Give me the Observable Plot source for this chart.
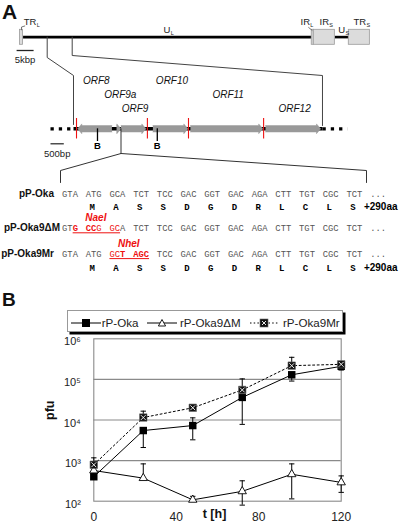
<!DOCTYPE html>
<html><head><meta charset="utf-8">
<script src="https://cdn.jsdelivr.net/npm/d3@7"></script>
<script src="https://cdn.jsdelivr.net/npm/@observablehq/plot@0.6"></script>
<style>
body{margin:0;background:#fff;font-family:"Liberation Sans",Arial,sans-serif;}
#wrap{position:relative;width:400px;height:524px;overflow:hidden;background:#fff}
#wrap svg{display:block}
.abs{position:absolute;white-space:nowrap}
#labB{left:2px;top:289px;font-weight:bold;font-size:19px;line-height:22px;color:#111}
#legendBox{left:66.7px;top:310px;width:274px;height:20px;border:1px solid #999;box-shadow:2.5px 2.5px 0 #000;background:#fff}
.legTxt{font-size:11.6px;line-height:14px;top:315.5px;color:#222}
.legSw{top:316.5px}
</style></head><body>
<div id="wrap">
  <div id="panelA"></div>
  <div id="panelB"></div>
  <div id="labB" class="abs">B</div>
  <div id="legendBox" class="abs"></div>
  <div id="legendItems"></div>
</div>
<script>
// ---------------- Panel A data ----------------
// genome overview (kbp, schematic)
const genomeBoxes = [
  {label: "TR", sub: "L", start: 0, end: 0.9, labelAt: 1.12},
  {label: "IR", sub: "L", start: 85.8, end: 86.4, labelAt: 82.5},
  {label: "IR", sub: "S", start: 86.4, end: 92.6, labelAt: 88.1},
  {label: "TR", sub: "S", start: 96.7, end: 102.9, labelAt: 98.1}
];
const genomeLines = [
  {label: "U", sub: "L", start: 0.9, end: 85.8, labelAt: 42.2},
  {label: "U", sub: "S", start: 92.6, end: 96.7, labelAt: 93.6}
];
const zoomRegionKbp = [8.0, 15.35];
const scaleBarKbp = [-1, 4];
const scaleBarKbpLabel = "5kbp";

// ORF map (bp, relative to zoomed region)
const regionBp = 9360;
const orfs = [
  {name: "ORF8", start: 1444, end: 154},
  {name: "ORF9a", start: 1617, end: 1786},
  {name: "ORF9", start: 1786, end: 2726},
  {name: "ORF10", start: 2985, end: 4305},
  {name: "ORF11", start: 4395, end: 7120},
  {name: "ORF12", start: 7218, end: 9293}
];
const redSites = [113, 2778, 4323, 7147];
const bSites = [902, 3150];
const scaleBarBp = [-865, -365];
const scaleBarBpLabel = "500bp";
const seqZoomBp = 1786;

// sequences
const okaCodons = ["GTA","ATG","GCA","TCT","TCC","GAC","GGT","GAC","AGA","CTT","TGT","CGC","TCT"];
const okaAA = ["M","A","S","S","D","G","D","R","L","C","L","S"];
const dmCodons = ["GTG","CCG","GCA","TCT","TCC","GAC","GGT","GAC","AGA","CTT","TGT","CGC","TCT"];
const dmMask = ["--B","BBr","rr-"];
const mrCodons = ["GTA","ATG","GCT","AGC","TCC","GAC","GGT","GAC","AGA","CTT","TGT","CGC","TCT"];
const mrMask = ["---","---","rrB","BBB"];
const mrAA = ["M","A","S","S","D","G","D","R","L","C","L","S"];
const seqNames = ["pP-Oka", "pP-Oka9\u0394M", "pP-Oka9Mr"];
const siteNames = ["NaeI", "NheI"];
const tailAA = "+290aa";

// ---------------- Panel B data ----------------
const hours = [0, 24, 48, 72, 96, 120];
const okaPfu = [400, 5500, 7300, 36000, 130000, 210000];
const okaLow = [null, 2100, 3250, 7800, 91000, 170000];
const okaHigh = [null, null, 11300, null, null, null];
const dmPfu = [570, 370, 108, 175, 460, 290];
const dmLow = [null, null, null, 80, 114, 165];
const dmHigh = [null, 830, 132, 318, 830, 420];
const mrPfu = [790, 11500, 20000, 55000, 218000, 235000];
const mrLow = [null, null, null, null, null, null];
const mrHigh = [1170, 16500, null, 103000, 350000, 270000];
const seriesNames = ["rP-Oka", "rP-Oka9\u0394M", "rP-Oka9Mr"];
const xTicks = [0, 40, 80, 120];
const yTicks = [1e2, 1e3, 1e4, 1e5, 1e6];

// ---------------- Panel A drawing ----------------
const gx = Plot.scale({x: {type: "linear", domain: [0, 100], range: [19.5, 359.5]}});
const bx = Plot.scale({x: {type: "linear", domain: [0, 500], range: [73, 86.3]}});
const cx = Plot.scale({x: {type: "linear", domain: [0, 12], range: [69.5, 353.9]}});
const G = v => gx.apply(v), Bp = v => bx.apply(v), C = v => cx.apply(v);

const yGen = 36.6, boxTop = 29.3, boxBot = 44.3, yOrf = 128.3;
const sans = "Liberation Sans, Arial, sans-serif";
const mono = "Liberation Mono, Courier New, monospace";
const charW = {T: .611, R: .722, I: .278, U: .722};
const labFs = 9.5;

const genomeLabels = [...genomeBoxes.map(d => ({...d, y: 21.5})), ...genomeLines.map(d => ({...d, y: 29.5}))];
genomeLabels.forEach(d => {
  d.x = G(d.labelAt);
  d.sx = d.x + d.label.split("").reduce((s, c) => s + charW[c], 0) * labFs + 0.3;
});

// connectors genome -> ORF map
const conn1 = [
  {k: "l", x: G(zoomRegionKbp[0]), y: yGen}, {k: "l", x: G(zoomRegionKbp[0]), y: 57},
  {k: "l", x: Bp(0), y: 75}, {k: "l", x: Bp(0), y: 124},
  {k: "r", x: G(zoomRegionKbp[1]), y: yGen}, {k: "r", x: G(zoomRegionKbp[1]), y: 55},
  {k: "r", x: Bp(regionBp), y: 75}, {k: "r", x: Bp(regionBp), y: 125}
];
// connectors ORF9 -> sequence
const zx = Bp(seqZoomBp);
const conn2 = [
  {k: "l", x: zx, y: yOrf}, {k: "l", x: zx, y: 153}, {k: "l", x: 60, y: 170}, {k: "l", x: 60, y: 182},
  {k: "r", x: zx, y: 153}, {k: "r", x: 366, y: 170}, {k: "r", x: 366, y: 182}
];
// hooks
const hooks = [
  {k: "a", x: G(0.45), y: boxTop}, {k: "a", x: G(0.45), y: 26.5}, {k: "a", x: G(1.4), y: 25.5},
  {k: "b", x: G(84.9), y: 27}, {k: "b", x: G(85.9), y: boxTop + 0.5}
];

// ORF arrows
const arrowPts = [];
orfs.forEach(o => {
  const a = Bp(o.start), b = Bp(o.end), dir = Math.sign(b - a), len = Math.abs(b - a);
  const hl = Math.min(4.2, len), hx = b - dir * hl, bh = 3.2, hh = 4.9;
  [[a, yOrf - bh], [hx, yOrf - bh], [hx, yOrf - hh], [b, yOrf], [hx, yOrf + hh], [hx, yOrf + bh], [a, yOrf + bh]]
    .forEach(([x, y]) => arrowPts.push({name: o.name, x, y}));
});
const orfLabels = orfs.map((o, i) => ({name: o.name, x: (Bp(o.start) + Bp(o.end)) / 2 + 1.5, y: 80.5 + (i % 3) * 13.8}));

// sequence characters
const cw = 5.3;
const rows = [
  {name: seqNames[0], codons: okaCodons, mask: [], y: 193.7, aa: okaAA, aaY: 206.5, labX: 53.5},
  {name: seqNames[1], codons: dmCodons, mask: dmMask, y: 227.7, aa: null, labX: 59.5, site: siteNames[0], siteY: 217.3},
  {name: seqNames[2], codons: mrCodons, mask: mrMask, y: 253.5, aa: mrAA, aaY: 267.5, labX: 53.5, site: siteNames[1], siteY: 243.7}
];
const chars = [], aas = [], unders = [], sites = [], tails = [];
rows.forEach(r => {
  let minX = Infinity, maxX = -Infinity;
  r.codons.forEach((cod, i) => {
    cod.split("").forEach((ch, j) => {
      const st = (r.mask[i] || "---")[j];
      const x = C(i) + (j - 1) * cw;
      chars.push({x, y: r.y, ch, st});
      if (st !== "-") { minX = Math.min(minX, x - cw / 2); maxX = Math.max(maxX, x + cw / 2); }
    });
  });
  "...".split("").forEach((ch, j) => chars.push({x: C(13) + (j - 1) * cw, y: r.y, ch, st: "-"}));
  if (r.aa) {
    r.aa.forEach((a, i) => aas.push({x: C(i + 1) - 1.5, y: r.aaY, a}));
    tails.push({x: C(12) + 9.5, y: r.aaY});
  }
  if (r.site) {
    unders.push({x1: minX, x2: maxX, y: r.y + 4.6});
    sites.push({x: (minX + maxX) / 2 - 0.5, y: r.siteY, t: r.site});
  }
});

const chartA = Plot.plot({
  width: 400, height: 272, margin: 0,
  x: {type: "identity", axis: null}, y: {type: "identity", axis: null},
  style: {fontFamily: sans, background: "white", overflow: "visible"},
  marks: [
    Plot.text(["A"], {x: 1.5, y: 11.5, text: d => d, textAnchor: "start", fontWeight: "bold", fontSize: 21, fill: "#111"}),
    // genome
    Plot.link(genomeLines, {x1: d => G(d.start), x2: d => G(d.end), y1: yGen, y2: yGen, stroke: "#000", strokeWidth: 2.6}),
    Plot.rect(genomeBoxes, {x1: d => G(d.start), x2: d => G(d.end), y1: boxTop, y2: boxBot, fill: "#dcdcdc", stroke: "#9a9a9a", strokeWidth: 0.8}),
    Plot.line(hooks, {x: "x", y: "y", z: "k", stroke: "#555", strokeWidth: 0.8}),
    Plot.text(genomeLabels, {x: "x", y: "y", text: "label", textAnchor: "start", fontSize: labFs, fill: "#222"}),
    Plot.text(genomeLabels, {x: "sx", y: d => d.y + 3.5, text: "sub", textAnchor: "start", fontSize: 5.5, fill: "#222"}),
    Plot.link([scaleBarKbp], {x1: d => G(d[0]), x2: d => G(d[1]), y1: 50, y2: 50, stroke: "#222", strokeWidth: 1.3}),
    Plot.text([scaleBarKbpLabel], {x: G(1.5), y: 59.5, text: d => d, fontSize: 9.5, fill: "#222"}),
    Plot.line(conn1, {x: "x", y: "y", z: "k", stroke: "#444", strokeWidth: 1}),
    // ORF map
    Plot.link([[-865, 0], [regionBp, regionBp + 940]], {x1: d => Bp(d[0]), x2: d => Bp(d[1]), y1: yOrf, y2: yOrf, stroke: "#000", strokeWidth: 3.3, strokeDasharray: "3.3,5"}),
    Plot.link([[0, regionBp]], {x1: d => Bp(d[0]), x2: d => Bp(d[1]), y1: yOrf, y2: yOrf, stroke: "#000", strokeWidth: 3.6}),
    Plot.line(arrowPts, {x: "x", y: "y", z: "name", fill: "#999", stroke: "#999", strokeWidth: 0.5}),
    Plot.ruleX(redSites, {x: Bp, y1: 118, y2: 138.5, stroke: "#ee1111", strokeWidth: 1.1}),
    Plot.ruleX(bSites, {x: Bp, y1: yOrf, y2: 141, stroke: "#000", strokeWidth: 1.3}),
    Plot.text(bSites, {x: Bp, y: 145.8, text: () => "B", fontWeight: "bold", fontSize: 9.5, fill: "#000"}),
    Plot.text(orfLabels, {x: "x", y: "y", text: "name", fontStyle: "italic", fontSize: 10, fill: "#111"}),
    Plot.link([scaleBarBp], {x1: d => Bp(d[0]), x2: d => Bp(d[1]), y1: 143.3, y2: 143.3, stroke: "#222", strokeWidth: 1.2}),
    Plot.text([scaleBarBpLabel], {x: 56.7, y: 153, text: d => d, fontSize: 9.5, fill: "#222"}),
    Plot.line(conn2, {x: "x", y: "y", z: "k", stroke: "#333", strokeWidth: 1}),
    // sequences
    Plot.text(rows, {x: "labX", y: "y", text: "name", textAnchor: "end", fontWeight: "bold", fontSize: 10, fill: "#111"}),
    Plot.text(chars.filter(d => d.st === "-"), {x: "x", y: "y", text: "ch", fontFamily: mono, fontSize: 8.8, fill: "#555"}),
    Plot.text(chars.filter(d => d.st === "r"), {x: "x", y: "y", text: "ch", fontFamily: mono, fontSize: 8.8, fill: "#ee1111"}),
    Plot.text(chars.filter(d => d.st === "B"), {x: "x", y: "y", text: "ch", fontFamily: mono, fontSize: 8.8, fontWeight: "bold", fill: "#ee1111"}),
    Plot.link(unders, {x1: "x1", x2: "x2", y1: "y", y2: "y", stroke: "#ee1111", strokeWidth: 1}),
    Plot.text(sites, {x: "x", y: "y", text: "t", fontWeight: "bold", fontStyle: "italic", fontSize: 10, fill: "#ee1111"}),
    Plot.text(aas, {x: "x", y: "y", text: "a", fontFamily: mono, fontWeight: "bold", fontSize: 9, fill: "#000"}),
    Plot.text(tails, {x: "x", y: "y", text: () => tailAA, textAnchor: "start", fontWeight: "bold", fontSize: 10, fill: "#000"})
  ]
});
document.getElementById("panelA").append(chartA);

// ---------------- Panel B drawing ----------------
function mk(name, mean, low, high) {
  return hours.map((t, i) => ({name, t, v: mean[i], lo: low[i], hi: high[i]}));
}
const oka = mk(seriesNames[0], okaPfu, okaLow, okaHigh);
const dm = mk(seriesNames[1], dmPfu, dmLow, dmHigh);
const mr = mk(seriesNames[2], mrPfu, mrLow, mrHigh);
const all = [...oka, ...dm, ...mr];
const bars = all.filter(d => d.lo != null || d.hi != null).map(d => ({t: d.t, y1: d.lo ?? d.v, y2: d.hi ?? d.v}));
const caps = [];
all.forEach(d => { if (d.lo != null) caps.push({t: d.t, y: d.lo}); if (d.hi != null) caps.push({t: d.t, y: d.hi}); });
const SUP = {2: "\u00b2", 3: "\u00b3", 4: "\u2074", 5: "\u2075", 6: "\u2076"};

const chartB = Plot.plot({
  width: 400, height: 252,
  marginTop: 66.3, marginBottom: 23.3, marginLeft: 93.3, marginRight: 59.3,
  style: {fontFamily: sans, background: "transparent", overflow: "visible", color: "#222"},
  x: {domain: [0, 120]},
  y: {type: "log", domain: [100, 1e6]},
  marks: [
    Plot.ruleY([1e3, 1e4, 1e5], {stroke: "#8a8a8a", strokeWidth: 1.1}),
    Plot.frame({stroke: "#8a8a8a", strokeWidth: 1.1}),
    Plot.axisX({ticks: xTicks, tickSize: 0, tickPadding: 11, fontSize: 12, label: null}),
    Plot.axisY({ticks: yTicks, tickFormat: d => "10" + SUP[Math.round(Math.log10(d))], tickSize: 0, tickPadding: 13, fontSize: 11, dy: 3, label: null}),
    Plot.line(oka, {x: "t", y: "v", stroke: "#000", strokeWidth: 1}),
    Plot.line(dm, {x: "t", y: "v", stroke: "#000", strokeWidth: 1}),
    Plot.line(mr, {x: "t", y: "v", stroke: "#000", strokeWidth: 1, strokeDasharray: "2,2.5"}),
    Plot.ruleX(bars, {x: "t", y1: "y1", y2: "y2", stroke: "#000", strokeWidth: 1}),
    Plot.link(caps, {x1: d => d.t - 1.3, x2: d => d.t + 1.3, y1: "y", y2: "y", stroke: "#000", strokeWidth: 1}),
    Plot.dot(dm, {x: "t", y: "v", symbol: "triangle", r: 3.1, fill: "#fff", stroke: "#000", strokeWidth: 0.9}),
    Plot.dot(oka, {x: "t", y: "v", symbol: "square", r: 4.2, fill: "#000", stroke: "none"}),
    Plot.dot(mr, {x: "t", y: "v", symbol: "square", r: 4.2, fill: "#111", stroke: "#666", strokeWidth: 0.6}),
    Plot.dot(mr, {x: "t", y: "v", symbol: "times", r: 2.3, stroke: "#fff", strokeWidth: 0.9}),
    Plot.text(["pfu"], {frameAnchor: "left", dx: -44, rotate: -90, text: d => d, fontWeight: "bold", fontSize: 12.5, fill: "#111"}),
    Plot.text(["t [h]"], {frameAnchor: "bottom", dx: -3, dy: 16.5, text: d => d, fontWeight: "bold", fontSize: 12.5, fill: "#111"})
  ]
});
document.getElementById("panelB").append(chartB);

// legend (HTML, matching series styles)
const sw = [
  `<svg width="30" height="12"><line x1="0" y1="6" x2="30" y2="6" stroke="#000"/><rect x="11" y="2" width="8" height="8" fill="#000"/></svg>`,
  `<svg width="30" height="12"><line x1="0" y1="6" x2="30" y2="6" stroke="#000"/><polygon points="15,2.5 18.6,9 11.4,9" fill="#fff" stroke="#000" stroke-width="0.9"/></svg>`,
  `<svg width="28" height="12"><line x1="0" y1="6" x2="28" y2="6" stroke="#000" stroke-dasharray="1.5,2.2"/><rect x="10" y="2" width="8" height="8" fill="#111" stroke="#666" stroke-width="0.6"/><path d="M12,4L16,8M16,4L12,8" stroke="#fff" stroke-width="0.9"/></svg>`
];
const swX = [71, 146.7, 250], txX = [101.7, 180, 283];
const items = document.getElementById("legendItems");
seriesNames.forEach((n, i) => {
  const s = document.createElement("div"); s.className = "abs legSw"; s.style.left = swX[i] + "px"; s.innerHTML = sw[i]; items.append(s);
  const t = document.createElement("div"); t.className = "abs legTxt"; t.style.left = txX[i] + "px"; t.textContent = n; items.append(t);
});
</script>
</body></html>
